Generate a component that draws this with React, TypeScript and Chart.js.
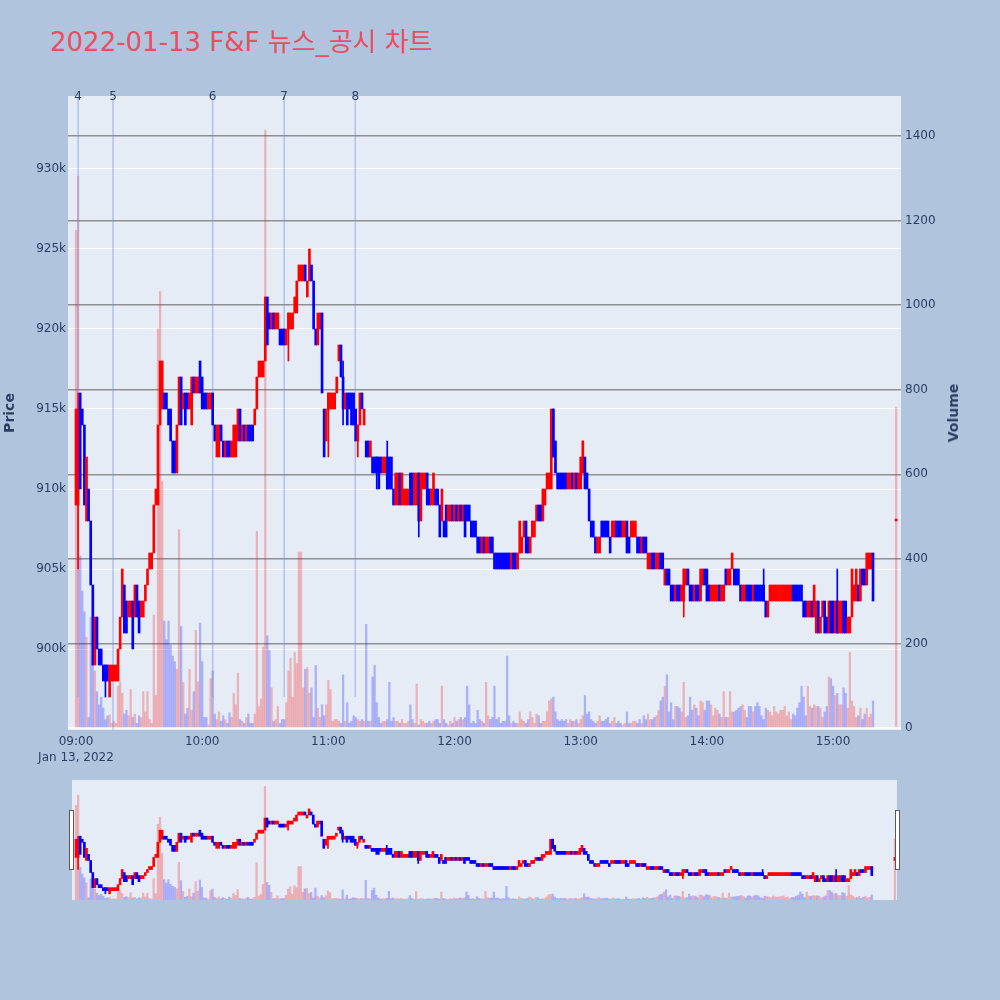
import React, { useEffect, useRef } from 'react';
import { Chart, registerables } from 'chart.js';

Chart.register(...registerables);

// ---------- data (prices in thousand won, one candle per minute from 09:00) ----------
const titleText = '2022-01-13 F&F 뉴스_공시 차트';
const dateLabel = 'Jan 13, 2022';
const firstMinute = 0; // 09:00

const opens = [
  909, 909, 916, 915, 914, 908, 910, 908, 904, 899,
  902, 900, 900, 899, 899, 899, 897, 898, 898, 898,
  898, 900, 902, 904, 903, 902, 902, 903, 902, 904,
  903, 902, 902, 903, 904, 905, 905, 906, 909, 909,
  914, 915, 916, 916, 915, 915, 913, 913, 911, 914,
  917, 915, 916, 916, 915, 914, 917, 916, 916, 918,
  917, 916, 916, 915, 915, 916, 914, 912, 912, 914,
  913, 912, 913, 913, 912, 912, 912, 913, 915, 913,
  914, 913, 914, 914, 914, 914, 915, 917, 917, 917,
  918, 922, 921, 920, 921, 920, 920, 920, 920, 920,
  919, 920, 920, 920, 921, 921, 923, 923, 923, 924,
  922, 923, 924, 923, 920, 919, 920, 921, 915, 913,
  915, 915, 915, 915, 916, 918, 919, 917, 915, 916,
  916, 916, 916, 915, 913, 914, 916, 914, 913, 913,
  912, 912, 912, 912, 912, 912, 911, 911, 912, 912,
  912, 910, 909, 909, 911, 909, 909, 909, 909, 911,
  911, 909, 909, 911, 908, 910, 910, 911, 910, 909,
  909, 910, 910, 909, 908, 908, 909, 908, 908, 909,
  908, 909, 908, 909, 908, 909, 909, 909, 908, 908,
  908, 907, 907, 906, 907, 906, 906, 907, 907, 906,
  906, 906, 906, 906, 906, 906, 906, 905, 906, 906,
  905, 906, 906, 907, 908, 907, 906, 907, 907, 908,
  909, 909, 908, 909, 910, 910, 910, 915, 913, 911,
  911, 911, 911, 911, 910, 910, 911, 910, 911, 910,
  910, 911, 912, 911, 910, 908, 908, 907, 906, 906,
  908, 908, 908, 908, 907, 907, 907, 908, 908, 908,
  907, 907, 908, 907, 907, 907, 907, 907, 907, 906,
  907, 907, 905, 905, 906, 906, 905, 905, 906, 906,
  904, 905, 905, 904, 904, 903, 904, 904, 903, 903,
  904, 905, 904, 904, 903, 904, 904, 903, 904, 905,
  905, 904, 903, 903, 903, 903, 904, 903, 903, 905,
  904, 904, 905, 905, 905, 905, 904, 903, 903, 904,
  904, 904, 903, 904, 904, 904, 904, 904, 903, 902,
  903, 903, 903, 903, 903, 903, 903, 903, 903, 903,
  903, 904, 904, 904, 904, 904, 903, 903, 902, 902,
  903, 902, 901, 903, 901, 902, 903, 902, 901, 903,
  903, 901, 903, 901, 901, 903, 903, 901, 901, 902,
  903, 903, 904, 903, 905, 905, 904, 905, 905, 906,
];

const closes = [
  915, 915, 910, 914, 909, 912, 908, 904, 899, 902,
  900, 899, 899, 898, 898, 898, 899, 899, 899, 899,
  900, 902, 905, 901, 901, 903, 903, 900, 904, 902,
  901, 903, 903, 904, 905, 906, 906, 909, 910, 914,
  918, 918, 915, 915, 914, 913, 911, 911, 914, 917,
  914, 916, 914, 915, 916, 917, 916, 917, 917, 916,
  915, 915, 915, 916, 916, 914, 913, 914, 914, 913,
  912, 913, 912, 912, 913, 914, 914, 915, 913, 914,
  913, 914, 913, 913, 913, 915, 917, 918, 918, 918,
  922, 919, 920, 921, 920, 921, 921, 919, 919, 919,
  920, 921, 921, 921, 922, 923, 924, 924, 924, 923,
  923, 925, 923, 920, 919, 921, 921, 916, 912, 915,
  916, 916, 916, 916, 917, 919, 917, 915, 916, 914,
  915, 914, 914, 913, 914, 916, 915, 915, 912, 912,
  913, 911, 911, 911, 910, 911, 912, 912, 910, 910,
  910, 909, 911, 911, 909, 911, 910, 910, 910, 909,
  909, 911, 911, 908, 911, 911, 911, 909, 909, 910,
  911, 909, 909, 907, 910, 907, 907, 909, 909, 908,
  909, 908, 909, 908, 909, 907, 908, 908, 907, 907,
  907, 906, 906, 907, 906, 907, 907, 906, 906, 905,
  905, 905, 905, 905, 905, 905, 905, 906, 905, 905,
  906, 908, 907, 908, 906, 906, 907, 908, 908, 909,
  908, 908, 910, 910, 911, 911, 915, 912, 911, 910,
  910, 910, 910, 910, 911, 911, 910, 911, 910, 911,
  912, 913, 910, 910, 908, 907, 907, 906, 907, 907,
  907, 907, 907, 907, 906, 908, 908, 907, 907, 907,
  908, 908, 906, 906, 908, 908, 908, 906, 906, 907,
  906, 906, 906, 906, 905, 905, 906, 906, 905, 905,
  905, 904, 904, 903, 903, 904, 903, 903, 904, 905,
  905, 904, 903, 903, 904, 903, 903, 905, 905, 904,
  903, 903, 904, 904, 904, 904, 903, 904, 904, 904,
  905, 905, 906, 904, 904, 904, 903, 904, 904, 903,
  903, 903, 904, 903, 903, 903, 903, 903, 902, 903,
  904, 904, 904, 904, 904, 904, 904, 904, 904, 904,
  904, 903, 903, 903, 903, 903, 902, 902, 903, 903,
  902, 904, 903, 901, 902, 903, 901, 901, 903, 901,
  901, 903, 901, 903, 903, 901, 901, 902, 902, 905,
  904, 905, 903, 905, 904, 904, 906, 906, 906, 903,
];

const volumes = [
  1177, 1305, 407, 324, 275, 214, 25, 262, 160, 135,
  86, 55, 73, 47, 20, 29, 31, 11, 16, 11,
  99, 108, 82, 33, 42, 29, 91, 25, 33, 11,
  29, 25, 86, 38, 86, 20, 11, 267, 77, 944,
  1032, 583, 253, 209, 253, 196, 170, 157, 139, 469,
  240, 108, 33, 47, 139, 42, 86, 231, 109, 248,
  157, 25, 25, 7, 117, 135, 33, 20, 38, 16,
  29, 20, 11, 36, 25, 82, 55, 130, 20, 16,
  11, 25, 33, 11, 11, 33, 465, 51, 69, 192,
  1414, 218, 183, 95, 16, 20, 51, 11, 20, 20,
  60, 135, 165, 73, 179, 152, 416, 416, 95, 139,
  143, 82, 95, 25, 148, 47, 25, 55, 29, 55,
  113, 91, 16, 20, 20, 16, 11, 126, 16, 60,
  11, 16, 29, 25, 20, 16, 20, 16, 245, 16,
  16, 121, 148, 60, 25, 11, 16, 16, 20, 108,
  16, 25, 16, 16, 11, 20, 11, 11, 16, 55,
  20, 11, 104, 7, 20, 16, 11, 11, 16, 11,
  16, 20, 20, 11, 99, 20, 11, 7, 16, 11,
  25, 16, 20, 25, 20, 25, 99, 55, 11, 16,
  11, 42, 20, 16, 11, 108, 29, 20, 25, 99,
  20, 25, 11, 16, 16, 170, 29, 11, 16, 11,
  11, 38, 20, 16, 11, 20, 38, 25, 11, 33,
  29, 11, 16, 16, 38, 64, 69, 73, 38, 20,
  16, 20, 16, 20, 11, 20, 16, 16, 20, 11,
  20, 29, 77, 33, 38, 20, 16, 11, 16, 29,
  16, 16, 20, 25, 11, 16, 25, 11, 16, 11,
  7, 11, 38, 11, 11, 16, 16, 11, 20, 11,
  29, 20, 33, 20, 20, 25, 29, 42, 64, 73,
  99, 126, 38, 60, 20, 51, 51, 47, 38, 108,
  25, 29, 73, 42, 55, 47, 29, 64, 60, 42,
  64, 64, 55, 29, 47, 42, 33, 25, 86, 25,
  25, 86, 38, 38, 42, 47, 51, 55, 42, 25,
  51, 51, 38, 51, 60, 51, 29, 20, 47, 42,
  38, 29, 51, 38, 33, 42, 42, 51, 29, 38,
  20, 33, 29, 47, 60, 99, 73, 29, 99, 51,
  47, 55, 51, 51, 47, 25, 38, 51, 121, 117,
  99, 77, 82, 55, 55, 95, 82, 47, 179, 64,
  51, 25, 29, 47, 20, 33, 47, 25, 33, 64,
];

// closing auction at 15:30
const auctionMinute = 390;
const auctionOpen = 908;
const auctionClose = 908;
const auctionVolume = 759;

// visible wicks: [minute, high, low]
const wicks = [
  [1, 916, 905], [14, 899, 897], [101, 921, 918], [120, 916, 912], [127, 918, 914],
  [134, 914, 912], [143, 912, 910], [148, 913, 910], [163, 911, 907], [227, 915, 912],
  [241, 913, 911], [289, 905, 902], [327, 905, 903], [362, 905, 901],
];

// news / disclosure markers
const newsLabels = ['4', '5', '6', '7', '8'];
const newsMinutes = [1, 17.6, 65, 99, 132.8];
const newsTop = 934.5;
const newsBottoms = [897, 894.9, 897, 897, 897];

const priceTicks = [900, 905, 910, 915, 920, 925, 930];
const volumeTicks = [0, 200, 400, 600, 800, 1000, 1200, 1400];
const hourTicks = [0, 60, 120, 180, 240, 300, 360];
const hourLabels = ['09:00', '10:00', '11:00', '12:00', '13:00', '14:00', '15:00'];

// ---------- styling ----------
const FONT = "'DejaVu Sans', Verdana, sans-serif";
const TITLE_FONT = "'DejaVu Sans', 'Noto Sans CJK KR', sans-serif";
const TXT = '#2a3f5f';
const UP = '#ff0000';
const DOWN = '#0000ff';
const UP_VOL = 'rgba(255,0,0,0.25)';
const DOWN_VOL = 'rgba(0,0,255,0.25)';
const PLOT_BG = '#e5ecf6';

type Candle = { x: number; o: number; c: number; v: number };

function buildCandles(): Candle[] {
  const pts: Candle[] = opens.map((o, i) => ({ x: firstMinute + i, o, c: closes[i], v: volumes[i] }));
  pts.push({ x: auctionMinute, o: auctionOpen, c: auctionClose, v: auctionVolume });
  return pts;
}

function seriesDatasets(candles: Candle[], slim: boolean): any[] {
  const up = candles.map((p) => p.c >= p.o);
  const colorFor = (m: number) => {
    const p = candles.find((q) => q.x === m);
    return p && p.c >= p.o ? UP : DOWN;
  };
  return [
    {
      type: 'bar', label: 'Volume', yAxisID: 'yv',
      data: candles.map((p) => ({ x: p.x, y: p.v })),
      backgroundColor: up.map((u) => (u ? UP_VOL : DOWN_VOL)),
      barThickness: 1.6, grouped: false, order: 5,
    },
    {
      type: 'bar', label: 'Wick', yAxisID: 'y',
      data: wicks.map((w) => ({ x: w[0], y: [w[2], w[1]] })),
      backgroundColor: wicks.map((w) => colorFor(w[0])),
      barThickness: 1, grouped: false, order: 1,
    },
    {
      type: 'bar', label: 'Price', yAxisID: 'y',
      data: candles.map((p) => ({ x: p.x, y: [p.o, p.c] })),
      backgroundColor: up.map((u) => (u ? UP : DOWN)),
      barThickness: 2, minBarLength: slim ? 3 : 2, grouped: false, order: 0,
    },
  ];
}

const plotBgPlugin = {
  id: 'plotBg',
  beforeDraw(chart: any) {
    const { ctx, chartArea } = chart;
    ctx.save();
    ctx.fillStyle = PLOT_BG;
    ctx.fillRect(chartArea.left, chartArea.top, chartArea.right - chartArea.left, chartArea.bottom - chartArea.top);
    ctx.restore();
  },
};

const newsLabelPlugin = {
  id: 'newsLabels',
  afterDatasetsDraw(chart: any) {
    const { ctx, chartArea, scales } = chart;
    ctx.save();
    ctx.font = `12px ${FONT}`;
    ctx.fillStyle = TXT;
    ctx.textAlign = 'center';
    ctx.textBaseline = 'middle';
    newsLabels.forEach((t, i) => {
      ctx.fillText(t, scales.x.getPixelForValue(newsMinutes[i]), chartArea.top + 1);
    });
    ctx.restore();
  },
};

export default function App() {
  const mainRef = useRef<HTMLCanvasElement>(null);
  const sliderRef = useRef<HTMLCanvasElement>(null);

  useEffect(() => {
    Chart.defaults.font.family = FONT;
    const candles = buildCandles();

    const newsDatasets = newsMinutes.map((m, i) => ({
      type: 'line', label: `news ${newsLabels[i]}`, yAxisID: 'y',
      data: [{ x: m, y: newsTop }, { x: m, y: newsBottoms[i] }],
      borderColor: 'rgba(110,140,240,0.45)', borderWidth: 1.5,
      pointRadius: 0, fill: false, order: 2,
    }));

    const main = new Chart(mainRef.current as HTMLCanvasElement, {
      type: 'bar',
      data: { datasets: [...seriesDatasets(candles, false), ...newsDatasets] as any },
      options: {
        responsive: false,
        animation: false,
        devicePixelRatio: 1,
        events: [],
        layout: { padding: { top: 96, left: 0, right: 0, bottom: 0 } },
        plugins: { legend: { display: false }, tooltip: { enabled: false }, title: { display: false } },
        scales: {
          x: {
            type: 'linear', min: -3.8, max: 392.3, offset: false,
            grid: { display: false, drawTicks: false },
            border: { display: false },
            afterBuildTicks: (s: any) => { s.ticks = hourTicks.map((v) => ({ value: v })); },
            afterFit: (s: any) => { s.height = 40; },
            ticks: {
              autoSkip: false, maxRotation: 0, minRotation: 0, padding: 4, color: TXT,
              font: { family: FONT, size: 12, lineHeight: 1.35 },
              callback: (v: any) => {
                const i = hourTicks.indexOf(Number(v));
                return i === 0 ? [hourLabels[0], dateLabel] : hourLabels[i];
              },
            },
          },
          y: {
            type: 'linear', position: 'left', min: 894.94, max: 934.56,
            afterBuildTicks: (s: any) => { s.ticks = priceTicks.map((v) => ({ value: v })); },
            afterFit: (s: any) => { s.width = 68; },
            grid: { color: '#ffffff', lineWidth: 1, drawTicks: false },
            border: { display: false },
            ticks: { padding: 2, color: TXT, font: { family: FONT, size: 12 }, callback: (v: any) => `${v}k` },
            title: {
              display: true, text: 'Price', color: TXT,
              font: { family: FONT, size: 14, weight: 'bold' }, padding: { top: 2, bottom: 0 },
            },
          },
          yv: {
            type: 'linear', position: 'right', min: -4.7, max: 1494.4,
            afterBuildTicks: (s: any) => { s.ticks = volumeTicks.map((v) => ({ value: v })); },
            afterFit: (s: any) => { s.width = 99; },
            grid: {
              color: (c: any) => (c.tick && c.tick.value === 0 ? '#ffffff' : '#8f8f8f'),
              lineWidth: (c: any) => (c.tick && c.tick.value === 0 ? 2 : 1.5),
              drawTicks: false,
            },
            border: { display: false },
            ticks: { padding: 4, color: TXT, font: { family: FONT, size: 12 }, callback: (v: any) => String(v) },
          },
        },
      } as any,
      plugins: [plotBgPlugin, newsLabelPlugin],
    });

    const slider = new Chart(sliderRef.current as HTMLCanvasElement, {
      type: 'bar',
      data: { datasets: seriesDatasets(candles, true) as any },
      options: {
        responsive: false,
        animation: false,
        devicePixelRatio: 1,
        events: [],
        layout: { padding: 0 },
        plugins: { legend: { display: false }, tooltip: { enabled: false } },
        scales: {
          x: { type: 'linear', display: false, min: -1.9, max: 391, offset: false },
          y: { type: 'linear', display: false, min: 894.94, max: 934.56 },
          yv: { type: 'linear', display: false, min: 0, max: 1494.4 },
        },
      } as any,
      plugins: [plotBgPlugin],
    });

    return () => {
      main.destroy();
      slider.destroy();
    };
  }, []);

  const handle = (left: number): React.CSSProperties => ({
    position: 'absolute', left, top: 810, width: 5, height: 60,
    background: '#ffffff', border: '1px solid #5a5a5a', boxSizing: 'border-box',
  });

  return (
    <div style={{ position: 'fixed', left: 0, top: 0, width: 1000, height: 1000, background: '#b0c4de', overflow: 'hidden' }}>
      <div style={{ position: 'absolute', left: 50, top: 27, font: `26px ${TITLE_FONT}`, lineHeight: '30px', color: '#eb4d61', whiteSpace: 'nowrap' }}>
        {titleText}
      </div>
      <canvas ref={mainRef} width={1000} height={770} style={{ position: 'absolute', left: 0, top: 0, width: 1000, height: 770 }} />
      <div style={{
        position: 'absolute', left: 953, top: 413, transform: 'translate(-50%, -50%) rotate(-90deg)',
        font: `bold 14px ${FONT}`, color: TXT, whiteSpace: 'nowrap',
      }}>
        Volume
      </div>
      <canvas ref={sliderRef} width={825} height={120} style={{ position: 'absolute', left: 72, top: 780, width: 825, height: 120 }} />
      <div style={handle(69)} />
      <div style={handle(895)} />
    </div>
  );
}
